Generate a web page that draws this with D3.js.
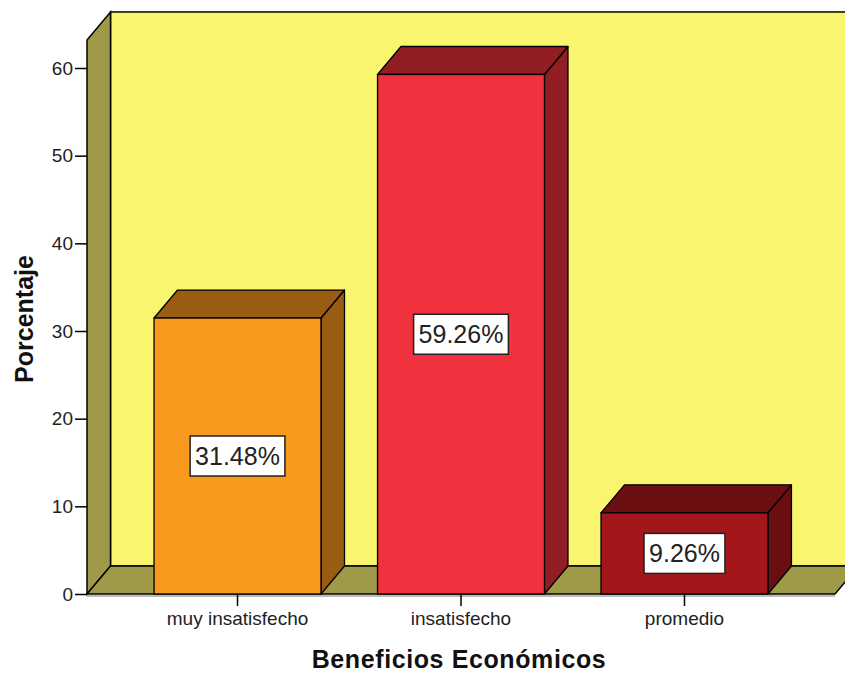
<!DOCTYPE html>
<html>
<head>
<meta charset="utf-8">
<script src="https://cdn.jsdelivr.net/npm/d3@7"></script>
<style>
  body { margin: 0; background: #fff; }
  svg { display: block; font-family: "Liberation Sans", Arial, sans-serif; }
</style>
</head>
<body>
<svg id="chart" width="845" height="673"></svg>
<script>
// chart values
var categories = ["muy insatisfecho", "insatisfecho", "promedio"];
var percents = [31.48, 59.26, 9.26];
var labels = ["31.48%", "59.26%", "9.26%"];
var yTicks = [0, 10, 20, 30, 40, 50, 60];

var frontColors = ["#f8981d", "#ef323d", "#a3161a"];
var darkColors = ["#9a5b13", "#921e23", "#6a0e11"];

var svg = d3.select("#chart");

var left = 87, right = 835, bottom = 594;
var dx = 23.5, dy = -28;

var y = d3.scaleLinear().domain([0, 60]).range([bottom, 68]);
var yTop = y(63.2);

var x = d3.scaleBand()
    .domain(categories)
    .range([left, right])
    .paddingInner(0.253)
    .paddingOuter(0.3);

var g = svg.append("g");

// back wall
g.append("rect")
    .attr("x", left + dx).attr("y", yTop + dy)
    .attr("width", right - left + 10).attr("height", bottom - yTop)
    .attr("fill", "#f9f56f")
    .attr("stroke", "#000").attr("stroke-width", 1.5);

// left wall
g.append("path")
    .attr("d", "M" + left + "," + bottom + "L" + left + "," + yTop +
        "L" + (left + dx) + "," + (yTop + dy) + "L" + (left + dx) + "," + (bottom + dy) + "Z")
    .attr("fill", "#9e9a48")
    .attr("stroke", "#000").attr("stroke-width", 1.5);

// floor
g.append("path")
    .attr("d", "M" + left + "," + bottom + "L" + (left + dx) + "," + (bottom + dy) +
        "L" + (right + dx) + "," + (bottom + dy) + "L" + right + "," + bottom + "Z")
    .attr("fill", "#9e9a48")
    .attr("stroke", "#000").attr("stroke-width", 1.5);

g.append("line")
    .attr("x1", left).attr("x2", right)
    .attr("y1", bottom + 2).attr("y2", bottom + 2)
    .attr("stroke", "#bbb").attr("stroke-width", 2);

// bars
var bars = g.selectAll(".bar")
    .data(categories)
    .enter().append("g")
    .attr("class", "bar");

bars.each(function(c, i) {
    var b = d3.select(this);
    var x0 = x(c), x1 = x(c) + x.bandwidth();
    var yt = y(percents[i]);
    // side
    b.append("path")
        .attr("d", "M" + x1 + "," + yt + "L" + (x1 + dx) + "," + (yt + dy) +
            "L" + (x1 + dx) + "," + (bottom + dy) + "L" + x1 + "," + bottom + "Z")
        .attr("fill", darkColors[i])
        .attr("stroke", "#000").attr("stroke-width", 1.3).attr("stroke-linejoin", "round");
    // top
    b.append("path")
        .attr("d", "M" + x0 + "," + yt + "L" + (x0 + dx) + "," + (yt + dy) +
            "L" + (x1 + dx) + "," + (yt + dy) + "L" + x1 + "," + yt + "Z")
        .attr("fill", darkColors[i])
        .attr("stroke", "#000").attr("stroke-width", 1.3).attr("stroke-linejoin", "round");
    // front
    b.append("rect")
        .attr("x", x0).attr("y", yt)
        .attr("width", x.bandwidth()).attr("height", bottom - yt)
        .attr("fill", frontColors[i])
        .attr("stroke", "#000").attr("stroke-width", 1.3);

    // value label
    var cx = (x0 + x1) / 2, cy = (yt + bottom) / 2;
    var box = b.append("rect").attr("fill", "#fff")
        .attr("stroke", "#222").attr("stroke-width", 1.5);
    var t = b.append("text")
        .attr("x", cx).attr("y", cy)
        .attr("text-anchor", "middle")
        .attr("dominant-baseline", "central")
        .attr("font-size", 25)
        .attr("fill", "#222")
        .text(labels[i]);
    var bb = t.node().getBBox();
    box.attr("x", cx - bb.width / 2 - 5).attr("y", cy - 20)
        .attr("width", bb.width + 10).attr("height", 40);
});

// y axis
var yAxis = svg.append("g")
    .attr("transform", "translate(" + left + ",0)")
    .call(d3.axisLeft(y).tickValues(yTicks).tickSize(12).tickPadding(2));
yAxis.select(".domain").remove();
yAxis.selectAll(".tick line").attr("stroke", "#000").attr("stroke-width", 1.5);
yAxis.selectAll(".tick text").attr("font-size", 19).attr("fill", "#222")
    .attr("font-family", "Liberation Sans, Arial, sans-serif");

// x axis
var xAxis = svg.append("g")
    .attr("transform", "translate(0," + bottom + ")")
    .call(d3.axisBottom(x).tickSize(12).tickPadding(6));
xAxis.select(".domain").remove();
xAxis.selectAll(".tick line").attr("stroke", "#000").attr("stroke-width", 1.5);
xAxis.selectAll(".tick text").attr("font-size", 19).attr("fill", "#222")
    .attr("font-family", "Liberation Sans, Arial, sans-serif");

// axis titles
svg.append("text")
    .attr("x", 459).attr("y", 668)
    .attr("text-anchor", "middle")
    .attr("font-size", 25).attr("font-weight", "bold")
    .attr("letter-spacing", 0.6)
    .attr("fill", "#111")
    .text("Beneficios Económicos");

svg.append("text")
    .attr("transform", "translate(33,319) rotate(-90)")
    .attr("text-anchor", "middle")
    .attr("font-size", 25).attr("font-weight", "bold")
    .attr("fill", "#111")
    .text("Porcentaje");
</script>
</body>
</html>
